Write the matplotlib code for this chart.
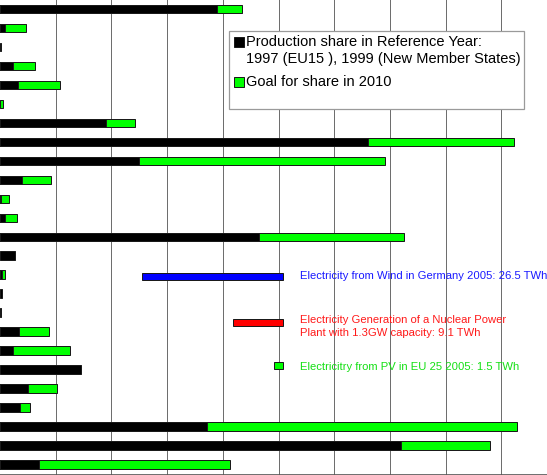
import matplotlib
matplotlib.use("Agg")
import matplotlib.pyplot as plt
from matplotlib.patches import Rectangle
import numpy as np

plt.rcParams['font.family'] = ['Liberation Sans', 'DejaVu Sans']

# ---------------- data (TWh) ----------------
countries = ["Austria", "Belgium", "Cyprus", "Czech Republic", "Denmark", "Estonia",
             "Finland", "France", "Germany", "Greece", "Hungary", "Ireland", "Italy",
             "Latvia", "Lithuania", "Luxembourg", "Malta", "Netherlands", "Poland",
             "Portugal", "Slovakia", "Slovenia", "Spain", "Sweden", "United Kingdom"]
reference_share = [39.0, 0.86, 0.2, 2.4, 3.2, 0.05, 19.0, 66.0, 24.9, 3.9, 0.2, 0.84,
                   46.5, 2.7, 0.33, 0.3, 0.15, 3.5, 2.35, 14.5, 5.1, 3.6, 37.2, 72.0, 7.0]
goal_2010 = [43.5, 4.6, np.nan, 6.2, 10.7, 0.45, 24.2, 92.3, 69.1, 9.2, 1.6, 3.0,
             72.5, np.nan, 0.9, np.nan, np.nan, 8.8, 12.6, np.nan, 10.3, 5.3, 92.9, 88.0, 41.3]

compare_labels = ["Electricity from Wind in Germany 2005: 26.5 TWh",
                  "Electricity Generation of a Nuclear Power\nPlant with 1.3GW capacity: 9.1 TWh",
                  "Electricitry from PV in EU 25 2005: 1.5 TWh"]
compare_values = [25.3, 8.9, 1.6]
compare_colors = ["#0000ff", "#ff0000", "#00ff00"]
compare_text_colors = ["#1a1aff", "#ff1a1a", "#14e014"]

legend_labels = ["Production share in Reference Year:\n1997 (EU15 ), 1999 (New Member States)",
                 "Goal for share in 2010"]

# ---------------- layout ----------------
W, H = 547, 475
fig = plt.figure(figsize=(W / 100, H / 100), dpi=100)
ax = fig.add_axes([0, 0, 1, 1])
ax.set_xlim(0, 98.2)
ax.set_ylim(24.54, -0.474)

lw = 0.72
edge = "#1a1a1a"
y = np.arange(len(countries))
goal = np.array(goal_2010)
mask = np.isfinite(goal)
ax.barh(y[mask], goal[mask], height=0.46, color="#00ff00", edgecolor=edge, linewidth=lw, zorder=3)
ax.barh(y, reference_share, height=0.46, color="black", edgecolor=edge, linewidth=lw, zorder=4)

# comparison bars
comp_y = [14.09, 16.5, 18.79]
comp_h = [0.40, 0.37, 0.37]
right_end = 50.8
for v, c, cy, ch in zip(compare_values, compare_colors, comp_y, comp_h):
    ax.barh(cy, v, left=right_end - v, height=ch, color=c, edgecolor=edge, linewidth=lw, zorder=3)

text_y = [14.08, 16.72, 18.87]
for lab, tc, ty in zip(compare_labels, compare_text_colors, text_y):
    ax.text(53.8, ty, lab, color=tc, fontsize=8.1, va="center", ha="left",
            linespacing=1.3, zorder=5)

# grid
ax.set_xticks(np.arange(10, 100, 10))
ax.grid(axis="x", color="#6e6e6e", linewidth=0.72, zorder=1)
ax.set_axisbelow(True)
ax.tick_params(left=False, bottom=False, labelleft=False, labelbottom=False)
for s in ["top", "left", "right"]:
    ax.spines[s].set_visible(False)
ax.spines["bottom"].set_color("#555555")
ax.spines["bottom"].set_linewidth(1.2)

# legend (drawn in pixel coordinates of the figure)
def fx(px):
    return px / W

def fy(py):
    return 1 - py / H

fig.patches.append(Rectangle((fx(229.3), fy(109.3)), fx(523.7) - fx(229.3), fy(30.7) - fy(109.3),
                             transform=fig.transFigure, facecolor="white", edgecolor="#9a9a9a",
                             linewidth=0.9, zorder=10))
fig.patches.append(Rectangle((fx(233.5), fy(47)), fx(10), fy(0) - fy(10),
                             transform=fig.transFigure, facecolor="black", edgecolor=edge,
                             linewidth=lw, zorder=11))
fig.patches.append(Rectangle((fx(233.5), fy(86.5)), fx(10), fy(0) - fy(10),
                             transform=fig.transFigure, facecolor="#00ff00", edgecolor=edge,
                             linewidth=lw, zorder=11))
fig.text(fx(246.5), fy(42), legend_labels[0].split("\n")[0], fontsize=10.5, va="center", ha="left", zorder=12)
fig.text(fx(246.5), fy(59.3), legend_labels[0].split("\n")[1], fontsize=10.5, va="center", ha="left", zorder=12)
fig.text(fx(246.5), fy(81.7), legend_labels[1], fontsize=10.5, va="center", ha="left", zorder=12)

fig.savefig("out.png", dpi=100)
